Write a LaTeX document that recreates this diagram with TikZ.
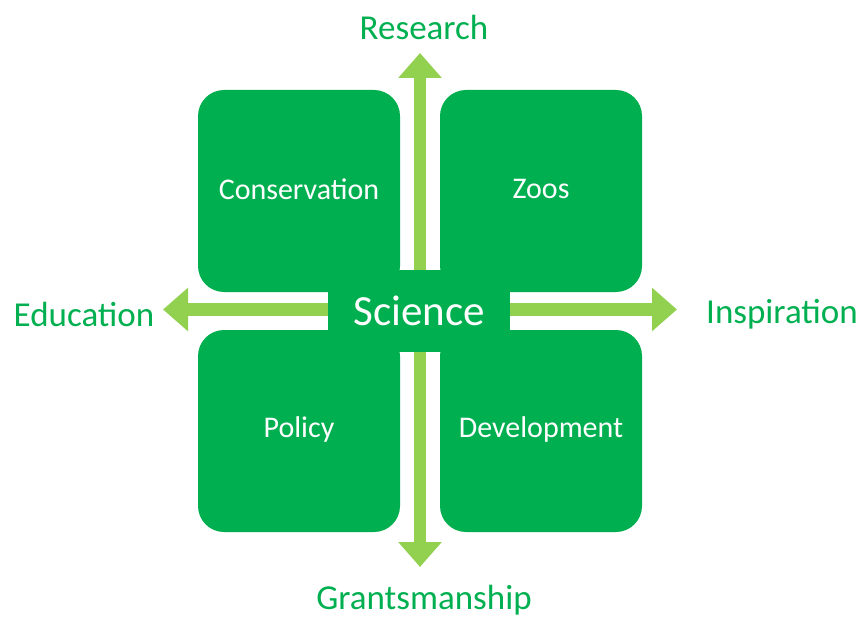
\documentclass[tikz,border=0pt]{standalone}
\usepackage{fontspec}
\setmainfont{Carlito}
\usetikzlibrary{arrows.meta}
\definecolor{boxgreen}{RGB}{0,176,80}
\definecolor{arrowgreen}{RGB}{146,208,80}
\tikzset{
  quad/.style={fill=boxgreen, rounded corners=26pt},
  quadlabel/.style={text=white, font=\fontsize{30}{34}\selectfont, inner sep=0pt},
  outlabel/.style={text=boxgreen, font=\fontsize{35}{39}\selectfont, inner sep=0pt},
  centerbox/.style={fill=boxgreen, text=white, minimum width=182pt, minimum height=82pt, inner sep=0pt, font=\fontsize{43}{47}\selectfont},
  bigarrow/.style={draw=arrowgreen, line width=12.5pt,
    arrows={Triangle[length=25pt,width=42pt]-Triangle[length=25pt,width=42pt]}}
}
\begin{document}
\begin{tikzpicture}[x=1pt,y=-1pt]
\useasboundingbox (0,0) rectangle (866,617);
% quadrants
\fill[quad] (198,90) rectangle (400,292);
\fill[quad] (440,90) rectangle (642,292);
\fill[quad] (198,330) rectangle (400,532);
\fill[quad] (440,330) rectangle (642,532);
\node[quadlabel] (cons) at (299,189) {Conservation};
\node[quadlabel] (zoos) at (541,189) {Zoos};
\node[quadlabel] (pol) at (299,429) {Policy};
\node[quadlabel] (dev) at (541,429) {Development};
% arrow tips
\coordinate (tipU) at (420,53);
\coordinate (tipD) at (420,567);
\coordinate (tipL) at (163,309.5);
\coordinate (tipR) at (677,309.5);
\draw[bigarrow] (tipL) -- (tipR);
\draw[bigarrow] (tipU) -- (tipD);
% centre
\node[centerbox] (sci) at (419,311) {Science};
% outer labels
\node[outlabel] (res) at (424,27) {Research};
\node[outlabel] (edu) at (84,314) {Education};
\node[outlabel] (ins) at (782,314) {Inspiration};
\node[outlabel] (gra) at (424,600) {Grantsmanship};
\end{tikzpicture}
\end{document}
